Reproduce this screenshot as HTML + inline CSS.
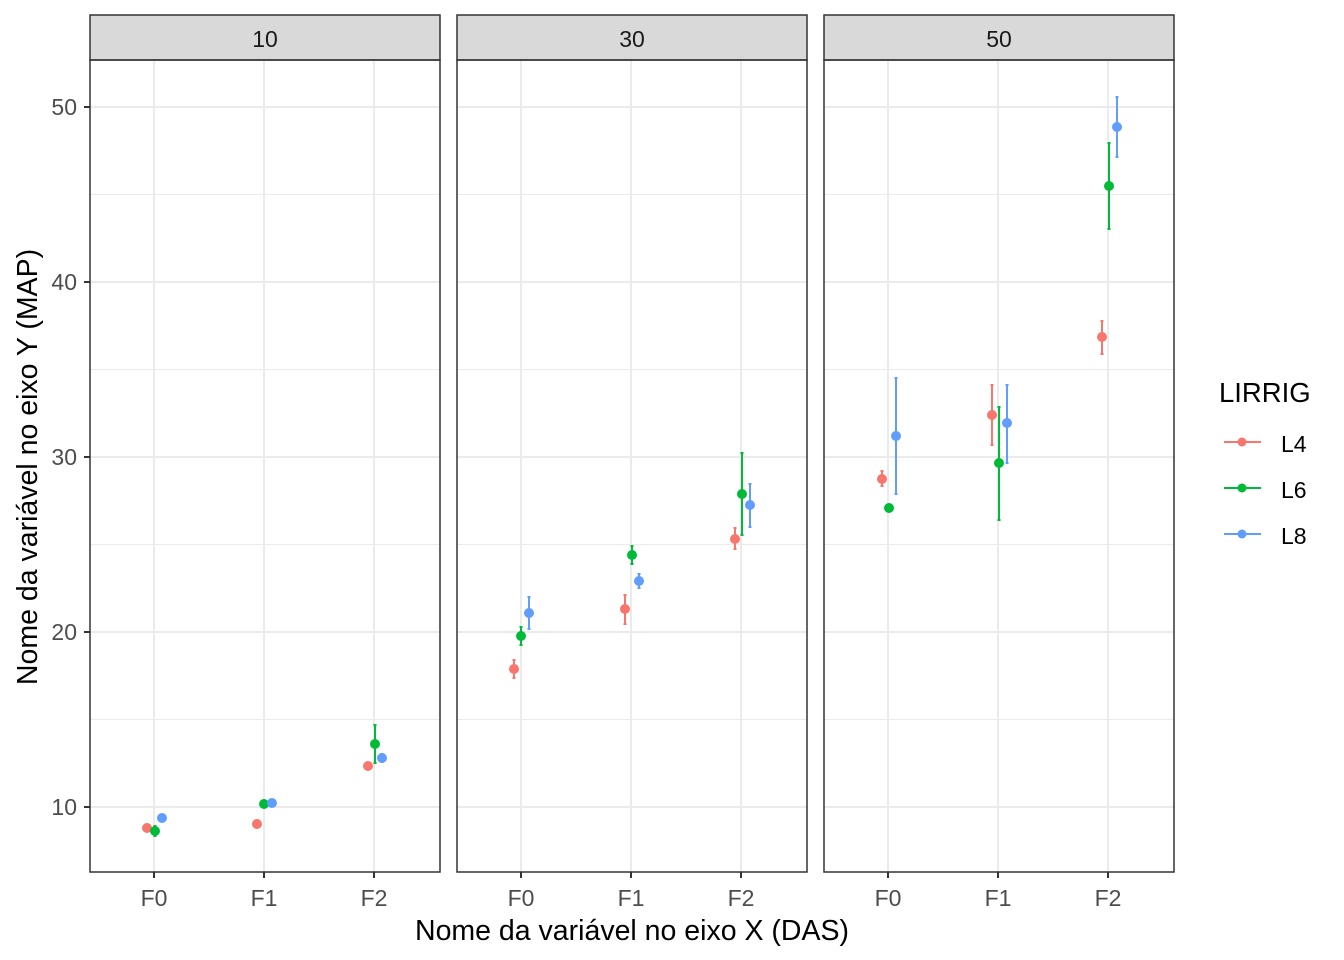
<!DOCTYPE html>
<html><head><meta charset="utf-8"><style>html,body{margin:0;padding:0;background:#fff}svg{display:block}</style></head>
<body>
<svg id="s" width="1344" height="960" xmlns="http://www.w3.org/2000/svg" font-family="Liberation Sans, Arial, sans-serif">
<rect width="1344" height="960" fill="#fff"/>
<g id="g"></g>
<text x="632" y="940" font-size="28.5" text-anchor="middle" fill="#000">Nome da variável no eixo X (DAS)</text>
<text transform="translate(37,467) rotate(-90)" font-size="28.5" text-anchor="middle" fill="#000">Nome da variável no eixo Y (MAP)</text>
<text x="1219" y="402" font-size="27.5" fill="#000">LIRRIG</text>
<line x1="1224" x2="1261" y1="442" y2="442" stroke="#F8766D" stroke-width="2"/><circle cx="1242" cy="442" r="4.5" fill="#F8766D"/><text x="1281" y="452" font-size="23">L4</text>
<line x1="1224" x2="1261" y1="488" y2="488" stroke="#00BA38" stroke-width="2"/><circle cx="1242" cy="488" r="4.5" fill="#00BA38"/><text x="1281" y="498" font-size="23">L6</text>
<line x1="1224" x2="1261" y1="534" y2="534" stroke="#619CFF" stroke-width="2"/><circle cx="1242" cy="534" r="4.5" fill="#619CFF"/><text x="1281" y="544" font-size="23">L8</text>
</svg>
<script>
var g=document.getElementById('g'),h='';
var P=[90,457,824],labels=['10','30','50'];
var C={L4:'#F8766D',L6:'#00BA38',L8:'#619CFF'};
var D=[
[0,'L4',147,828,826,830],[0,'L6',155,831,826,836],[0,'L8',162,818,816,820],
[0,'L4',257,824,822,826],[0,'L6',264,804,802,806],[0,'L8',272,803,801,805],
[0,'L4',368,766,764,768],[0,'L6',375,744,725,763],[0,'L8',382,758,754,762],
[1,'L4',514,669,660,678],[1,'L6',521,636,627,645],[1,'L8',529,613,597,629],
[1,'L4',625,609,595,624],[1,'L6',632,555,546,564],[1,'L8',639,581,574,588],
[1,'L4',735,539,528,549],[1,'L6',742,494,453,535],[1,'L8',750,505,484,527],
[2,'L4',882,479,471,486],[2,'L6',889,508,507,509],[2,'L8',896,436,378,494],
[2,'L4',992,415,385,445],[2,'L6',999,463,407,520],[2,'L8',1007,423,385,463],
[2,'L4',1102,337,321,354],[2,'L6',1109,186,143,229],[2,'L8',1117,127,97,157]];
P.forEach(function(x0,i){
 h+='<rect x="'+x0+'" y="60" width="350" height="812" fill="#fff"/>';
 [194.5,369.5,544.5,719.5].forEach(function(y){h+='<line x1="'+x0+'" x2="'+(x0+350)+'" y1="'+y+'" y2="'+y+'" stroke="#EBEBEB" stroke-width="1"/>';});
 [107,282,457,632,807].forEach(function(y){h+='<line x1="'+x0+'" x2="'+(x0+350)+'" y1="'+y+'" y2="'+y+'" stroke="#EBEBEB" stroke-width="2"/>';});
 [64,174,284].forEach(function(d,j){var x=x0+d;h+='<line x1="'+x+'" x2="'+x+'" y1="60" y2="872" stroke="#EBEBEB" stroke-width="2"/>';
  h+='<line x1="'+x+'" x2="'+x+'" y1="872" y2="878" stroke="#333" stroke-width="2"/>';
  h+='<text x="'+x+'" y="906" font-size="23" fill="#4D4D4D" text-anchor="middle">F'+j+'</text>';});
 h+='<rect x="'+x0+'" y="15" width="350" height="45" fill="#D9D9D9" stroke="#333" stroke-width="1.5"/>';
 h+='<text x="'+(x0+175)+'" y="47" font-size="23" fill="#1A1A1A" text-anchor="middle">'+labels[i]+'</text>';
});
D.forEach(function(d){var c=C[d[1]],x=d[2];
 if(d[5]-d[4]>3){h+='<line x1="'+x+'" x2="'+x+'" y1="'+d[4]+'" y2="'+d[5]+'" stroke="'+c+'" stroke-width="2"/>';
 h+='<line x1="'+(x-1.5)+'" x2="'+(x+1.5)+'" y1="'+d[4]+'" y2="'+d[4]+'" stroke="'+c+'" stroke-width="2"/>';
 h+='<line x1="'+(x-1.5)+'" x2="'+(x+1.5)+'" y1="'+d[5]+'" y2="'+d[5]+'" stroke="'+c+'" stroke-width="2"/>';}
 h+='<circle cx="'+x+'" cy="'+d[3]+'" r="5" fill="'+c+'"/>';
});
P.forEach(function(x0){h+='<rect x="'+x0+'" y="60" width="350" height="812" fill="none" stroke="#333" stroke-width="1.5"/>';});
[[107,'50'],[282,'40'],[457,'30'],[632,'20'],[807,'10']].forEach(function(t){
 h+='<line x1="84" x2="90" y1="'+t[0]+'" y2="'+t[0]+'" stroke="#333" stroke-width="2"/>';
 h+='<text x="77" y="'+(t[0]+8)+'" font-size="23" fill="#4D4D4D" text-anchor="end">'+t[1]+'</text>';});
g.innerHTML=h;
</script>
</body></html>
